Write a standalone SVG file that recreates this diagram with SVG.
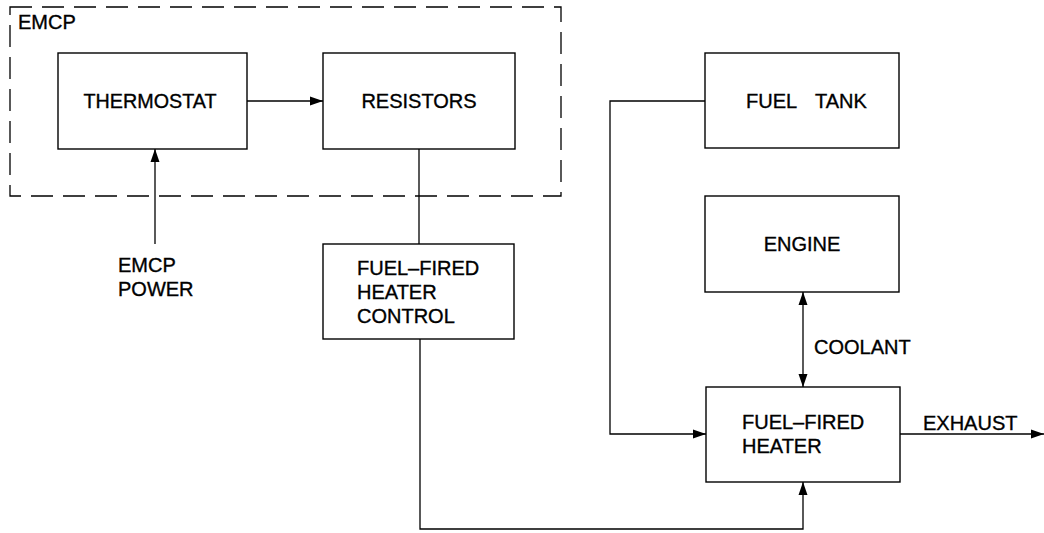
<svg xmlns="http://www.w3.org/2000/svg" width="1044" height="533" viewBox="0 0 1044 533">
<style>
.box{fill:none;stroke:#000;stroke-width:1.4}
.ln{fill:none;stroke:#000;stroke-width:1.3}
text{font-family:"Liberation Sans",Arial,sans-serif;font-size:20px;fill:#000;stroke:#000;stroke-width:0.35}
.c{text-anchor:middle}
</style>
<defs>
<marker id="ah" viewBox="0 0 13 10" refX="13" refY="5" markerWidth="13" markerHeight="10" markerUnits="userSpaceOnUse" orient="auto-start-reverse">
<path d="M0,0.5 L13,5 L0,9.5 Z" fill="#000"/>
</marker>
</defs>
<rect width="1044" height="533" fill="#fff"/>
<g id="emcp">
<rect x="10" y="7" width="551" height="189" fill="none" stroke="#000" stroke-width="1.3" stroke-dasharray="22,10"/>
<text x="18" y="29">EMCP</text>
</g>
<g id="thermostat">
<rect class="box" x="58" y="53" width="189" height="96"/>
<text class="c" x="150" y="108" textLength="133" lengthAdjust="spacingAndGlyphs">THERMOSTAT</text>
</g>
<g id="resistors">
<rect class="box" x="323" y="53" width="192" height="96"/>
<text class="c" x="419" y="108">RESISTORS</text>
</g>
<g id="emcp-power">
<text x="118" y="272">EMCP</text>
<text x="118" y="296">POWER</text>
</g>
<g id="ffh-control">
<rect class="box" x="323" y="244" width="191" height="95"/>
<text x="357" y="275">FUEL–FIRED</text>
<text x="357" y="299">HEATER</text>
<text x="357" y="323">CONTROL</text>
</g>
<g id="fuel-tank">
<rect class="box" x="705" y="53" width="194" height="95"/>
<text x="746" y="108">FUEL<tspan x="815">TANK</tspan></text>
</g>
<g id="engine">
<rect class="box" x="705" y="196" width="194" height="96"/>
<text class="c" x="802" y="251">ENGINE</text>
</g>
<g id="ffh">
<rect class="box" x="706" y="387" width="194" height="95"/>
<text x="742" y="429">FUEL–FIRED</text>
<text x="742" y="453">HEATER</text>
</g>
<g id="labels">
<text x="814" y="354">COOLANT</text>
<text x="923" y="430">EXHAUST</text>
</g>
<g id="connectors">
<line class="ln" x1="247" y1="101" x2="323" y2="101" marker-end="url(#ah)"/>
<line class="ln" x1="155" y1="244" x2="155" y2="149" marker-end="url(#ah)"/>
<line class="ln" x1="419" y1="149" x2="419" y2="244"/>
<polyline class="ln" points="705,101 610,101 610,434 706,434" marker-end="url(#ah)"/>
<line class="ln" x1="803" y1="292" x2="803" y2="387" marker-start="url(#ah)" marker-end="url(#ah)"/>
<line class="ln" x1="900" y1="434" x2="1044" y2="434" marker-end="url(#ah)"/>
<polyline class="ln" points="420,339 420,529 803,529 803,482" marker-end="url(#ah)"/>
</g>
</svg>
